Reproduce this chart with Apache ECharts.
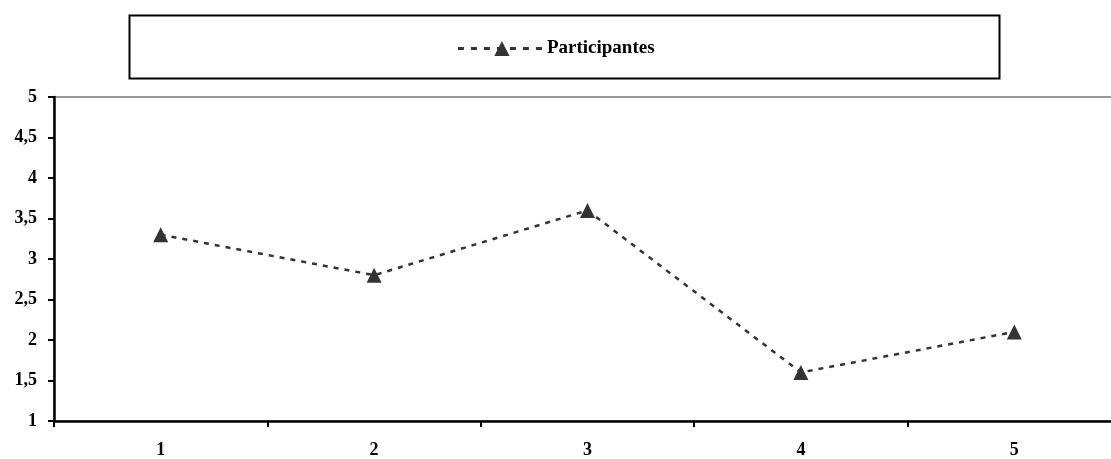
<!DOCTYPE html>
<html>
<head>
<meta charset="utf-8">
<script src="https://cdn.jsdelivr.net/npm/echarts@6/dist/echarts.min.js"></script>
<style>
  html, body { margin: 0; padding: 0; background: #fff; }
  #chart { width: 1111px; height: 459px; }
</style>
</head>
<body>
<div id="chart"></div>
<script>
// Categories along the horizontal axis
const categories = ['1', '2', '3', '4', '5'];
// Mean score per category
const participantes = [3.3, 2.8, 3.6, 1.6, 2.1];
// Vertical scale
const yMin = 1;
const yMax = 5;
const yStep = 0.5;

const FONT = '"Liberation Serif", "Times New Roman", serif';
const INK = '#333333';

const chart = echarts.init(document.getElementById('chart'));
chart.setOption({
  animation: false,
  backgroundColor: '#ffffff',
  graphic: [{
    type: 'rect',
    shape: { x: 129.5, y: 15.5, width: 870, height: 63 },
    style: { fill: '#ffffff', stroke: '#000000', lineWidth: 2 },
    z: -1
  }],
  legend: {
    top: 34,
    left: 'center',
    itemWidth: 88,
    itemHeight: 19,
    itemGap: 0,
    lineStyle: { type: [6, 7], width: 3 },
    textStyle: { fontFamily: FONT, fontWeight: 'bold', fontSize: 19, color: '#000', padding: [0, 0, 0, -4] },
    data: ['Participantes']
  },
  grid: {
    left: 54, top: 97, width: 1067, height: 324,
    outerBoundsMode: 'none',
    show: true, borderColor: '#999999', borderWidth: 2,
    containLabel: false
  },
  xAxis: {
    type: 'category',
    data: categories,
    boundaryGap: true,
    axisLine: { lineStyle: { color: '#000', width: 2.5 } },
    axisTick: { show: true, length: 6, lineStyle: { color: '#000', width: 2 } },
    axisLabel: { fontFamily: FONT, fontWeight: 'bold', fontSize: 18, color: '#000', margin: 20 },
    splitLine: { show: false }
  },
  yAxis: {
    type: 'value',
    min: yMin, max: yMax, interval: yStep,
    axisLine: { show: true, lineStyle: { color: '#000', width: 2.5 } },
    axisTick: { show: true, length: 6, lineStyle: { color: '#000', width: 2 } },
    axisLabel: {
      fontFamily: FONT, fontWeight: 'bold', fontSize: 18, color: '#000', margin: 17,
      formatter: v => String(v).replace('.', ',')
    },
    splitLine: { show: false }
  },
  series: [{
    name: 'Participantes',
    type: 'line',
    data: participantes,
    symbol: 'triangle',
    symbolSize: 15,
    itemStyle: { color: INK },
    lineStyle: { color: INK, width: 2.5, type: [5, 6] }
  }]
});
</script>
</body>
</html>
